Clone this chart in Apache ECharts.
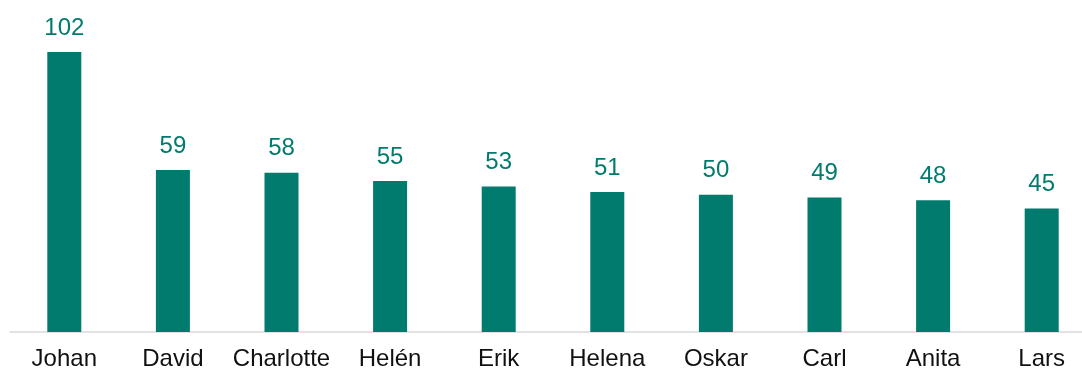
<!DOCTYPE html>
<html>
<head>
<meta charset="utf-8">
<script src="https://cdn.jsdelivr.net/npm/echarts@6/dist/echarts.min.js"></script>
<style>
  html, body { margin: 0; padding: 0; background: #ffffff; }
  #chart { width: 1082px; height: 369px; }
</style>
</head>
<body>
<div id="chart"></div>
<script>
// Names and their counts
const names = ['Johan', 'David', 'Charlotte', 'Helén', 'Erik', 'Helena', 'Oskar', 'Carl', 'Anita', 'Lars'];
const counts = [102, 59, 58, 55, 53, 51, 50, 49, 48, 45];

const teal = '#007B6D';
const fontFamily = '"Liberation Sans", Arial, sans-serif';

const chart = echarts.init(document.getElementById('chart'), null, { renderer: 'canvas' });
chart.setOption({
  animation: false,
  // the plot area runs a little past the right edge of the canvas
  grid: {
    left: 10, width: 1086, top: 30, bottom: 37,
    containLabel: false,
    outerBoundsMode: 'none'
  },
  xAxis: {
    type: 'category',
    data: names,
    axisLine: { show: true, lineStyle: { color: '#D9D9D9', width: 1.5 } },
    axisTick: { show: false },
    axisLabel: {
      color: '#111111',
      fontFamily: fontFamily,
      fontSize: 24,
      margin: 15,
      interval: 0
    }
  },
  yAxis: {
    type: 'value',
    min: 0,
    max: 110,
    show: false,
    splitLine: { show: false }
  },
  series: [{
    type: 'bar',
    data: counts,
    barWidth: 34,
    itemStyle: { color: teal },
    label: {
      show: true,
      position: 'top',
      distance: 12,
      color: teal,
      fontFamily: fontFamily,
      fontSize: 24
    }
  }]
});
</script>
</body>
</html>
